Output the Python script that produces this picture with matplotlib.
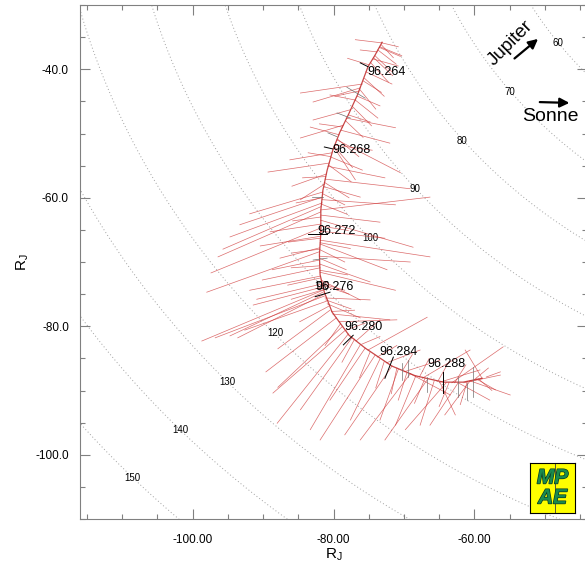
import matplotlib
matplotlib.use("Agg")
import matplotlib.pyplot as plt
import matplotlib.patheffects as pe
from matplotlib.ticker import MultipleLocator, FormatStrFormatter
import numpy as np

plt.rcParams["font.family"] = ["Liberation Sans", "DejaVu Sans"]

# spacecraft track (R_J)
traj_x = [-73.1, -74.1, -75.1, -76.6, -77.9, -79.1, -80.1, -80.9, -81.5, -81.8, -81.8,
          -82.0, -81.9, -81.3, -80.2, -77.8, -75.5, -71.7, -68.4, -64.4, -61.6, -58.9]
traj_y = [-35.8, -37.8, -39.6, -44.0, -47.1, -49.8, -52.6, -55.7, -58.8, -61.9, -65.5,
          -68.9, -72.0, -74.7, -77.8, -81.4, -83.4, -86.2, -87.7, -88.7, -88.7, -88.1]

# field vectors, start and end point (R_J)
vec_x0 = [-73.1, -73.1, -73.2, -73.4, -73.7, -73.8, -74.1, -74.4, -74.7, -75.4,
          -75.6, -75.9, -76.2, -76.4, -76.6, -76.9, -77.6, -77.9, -78.2, -78.6,
          -78.9, -79.2, -79.5, -79.8, -79.9, -80.2, -80.3, -80.6, -80.8, -81.0,
          -81.2, -81.3, -81.3, -81.5, -81.6, -81.6, -81.6, -81.8, -81.8, -81.8,
          -81.8, -81.8, -81.8, -81.8, -81.8, -81.9, -81.9, -81.9, -82.0, -82.0,
          -82.0, -82.0, -82.0, -81.9, -81.9, -81.9, -81.8, -81.6, -81.6, -81.5,
          -81.5, -81.3, -81.3, -81.2, -81.0, -80.9, -80.5, -80.1, -79.6, -79.2,
          -78.8, -78.4, -77.9, -77.4, -76.8, -76.2, -75.5, -75.1, -74.1, -73.4,
          -72.5, -71.7, -70.8, -70.0, -69.1, -68.3, -67.4, -66.6, -65.7, -64.9,
          -64.0, -63.2, -62.3, -61.5, -60.6, -59.7, -58.9, -58.3, -60.6, -62.3,
          -64.9, -69.1, -81.5, -81.9, -81.6]
vec_y0 = [-35.9, -35.9, -36.2, -36.5, -37.0, -37.3, -37.9, -38.4, -39.0, -40.4,
          -41.4, -42.3, -42.9, -43.4, -44.2, -44.8, -46.3, -47.1, -47.6, -48.7,
          -49.5, -50.2, -51.0, -51.8, -52.2, -53.0, -53.7, -54.6, -55.1, -56.3,
          -57.1, -57.9, -58.3, -59.1, -59.9, -60.3, -60.8, -61.4, -61.9, -62.2,
          -62.7, -63.5, -64.1, -64.7, -65.2, -66.0, -66.6, -67.2, -67.8, -68.4,
          -69.1, -69.7, -70.3, -70.9, -71.6, -72.2, -72.8, -73.4, -73.9, -74.4,
          -74.7, -75.0, -75.3, -75.6, -76.1, -76.5, -77.5, -78.1, -78.7, -79.3,
          -80.1, -80.7, -81.2, -81.8, -82.3, -82.9, -83.4, -83.7, -84.5, -85.1,
          -85.7, -86.2, -86.7, -87.1, -87.4, -87.7, -88.1, -88.2, -88.5, -88.7,
          -88.8, -88.8, -88.8, -88.8, -88.5, -88.2, -88.1, -87.9, -88.5, -88.8,
          -88.7, -87.4, -59.4, -68.1, -73.4]
vec_x1 = [-76.9, -70.8, -71.5, -70.3, -71.1, -76.2, -71.7, -70.8, -72.2, -71.7,
          -72.8, -84.7, -82.9, -79.8, -73.4, -73.7, -82.9, -74.8, -71.2, -84.7,
          -72.0, -83.3, -70.5, -74.5, -76.9, -86.2, -75.9, -89.3, -72.7, -85.9,
          -69.1, -84.7, -76.2, -91.9, -93.3, -71.2, -94.7, -95.7, -66.3, -96.4,
          -73.4, -68.7, -89.0, -97.4, -72.7, -90.4, -66.3, -72.4, -87.6, -98.0,
          -69.1, -88.7, -74.8, -90.1, -71.2, -91.9, -76.2, -90.9, -91.4, -98.7,
          -94.7, -93.6, -96.8, -74.8, -92.6, -76.2, -87.9, -72.0, -89.6, -71.0,
          -87.9, -88.6, -88.0, -84.7, -73.4, -83.3, -80.5, -66.7, -81.9, -77.6,
          -67.7, -78.4, -73.4, -64.9, -76.2, -71.2, -60.6, -72.7, -67.7, -59.2,
          -69.8, -55.9, -66.3, -56.3, -64.2, -57.0, -61.3, -56.3, -54.9, -57.8,
          -62.7, -63.4, -78.4, -78.4, -78.4]
vec_y1 = [-35.4, -36.5, -38.2, -37.9, -39.2, -37.0, -40.4, -39.5, -42.0, -42.3,
          -44.2, -43.7, -45.1, -44.2, -45.7, -47.6, -47.9, -48.2, -49.1, -50.7,
          -51.5, -49.0, -56.1, -52.6, -57.2, -54.1, -55.7, -56.0, -56.9, -58.2,
          -58.6, -60.3, -59.9, -62.5, -64.2, -61.1, -66.1, -68.0, -59.9, -69.2,
          -63.8, -67.7, -65.3, -71.7, -66.3, -67.5, -69.2, -71.2, -69.4, -74.7,
          -70.0, -71.2, -73.1, -72.8, -74.4, -74.4, -75.9, -75.8, -76.7, -82.3,
          -81.5, -81.8, -81.8, -75.9, -80.6, -78.7, -83.5, -79.0, -87.1, -79.0,
          -89.5, -90.4, -95.1, -93.0, -79.0, -96.1, -91.5, -78.6, -97.7, -94.6,
          -83.7, -96.9, -94.6, -85.3, -97.7, -95.4, -83.7, -97.7, -95.4, -86.8,
          -96.1, -83.2, -95.4, -87.6, -93.8, -89.9, -83.7, -87.1, -90.7, -91.5,
          -93.8, -90.7, -61.1, -70.0, -74.4]

# short vectors close to the track
short_x0 = [-73.5, -74.3, -75.0, -75.8, -76.3, -76.9, -77.3, -78.3, -78.7, -79.4,
            -79.9, -80.4, -80.7, -81.1, -81.3, -81.6, -81.7, -81.8, -81.8, -81.9,
            -81.9, -82.0, -82.0, -82.0, -81.9, -81.9, -81.6, -81.4, -81.1, -80.7,
            -80.3, -79.0, -78.2, -77.0, -76.0, -74.8, -73.8, -72.8, -71.0, -70.2,
            -69.6, -67.8, -67.0, -65.2, -63.6, -62.8, -61.0, -60.0, -59.4]
short_y0 = [-36.6, -38.2, -39.3, -41.8, -43.1, -44.8, -45.8, -48.0, -49.0, -50.9,
            -52.0, -53.6, -54.9, -56.7, -57.6, -60.0, -61.0, -63.0, -64.4, -66.3,
            -67.0, -68.0, -69.4, -70.6, -71.3, -72.5, -73.6, -74.3, -75.9, -76.9,
            -77.7, -79.6, -80.6, -82.0, -82.8, -84.0, -84.8, -85.5, -86.5, -86.9,
            -87.3, -87.9, -88.1, -88.6, -88.8, -88.8, -88.6, -88.3, -88.2]
short_x1 = [-70.5, -71.6, -78.0, -73.2, -74.0, -80.5, -74.6, -75.8, -82.0, -76.4,
            -77.3, -83.6, -77.5, -84.4, -77.8, -85.3, -78.0, -85.8, -77.9, -86.4,
            -77.6, -85.9, -78.2, -86.0, -78.0, -86.5, -77.8, -86.0, -77.5, -84.8,
            -77.0, -81.2, -75.5, -78.8, -73.4, -76.3, -71.0, -74.0, -71.8, -68.8,
            -70.8, -66.4, -68.5, -63.6, -65.0, -61.2, -62.0, -58.0, -57.5]
short_y1 = [-38.0, -41.0, -38.3, -43.6, -46.2, -44.0, -48.8, -50.6, -48.5, -53.6,
            -55.3, -53.0, -57.5, -56.9, -60.0, -60.8, -62.6, -63.6, -65.1, -66.9,
            -67.9, -68.6, -71.2, -70.9, -72.0, -73.6, -75.0, -75.8, -77.3, -79.3,
            -77.5, -83.0, -79.5, -85.6, -81.6, -88.0, -83.0, -89.6, -90.5, -84.4,
            -91.5, -85.0, -92.0, -85.5, -92.5, -86.0, -92.2, -86.5, -90.0]

# sparser vectors drawn in grey
gray_x0 = [-75.5, -77.6, -79.5, -81.5, -80.9, -70.3, -69.4, -66.7, -62.3, -61.0, -60.2]
gray_y0 = [-44.5, -47.6, -50.5, -59.9, -69.4, -85.7, -85.3, -87.9, -87.9, -88.8, -86.3]
gray_x1 = [-78.1, -79.5, -80.8, -83.0, -82.9, -70.3, -69.4, -66.7, -62.3, -61.0, -60.2]
gray_y1 = [-42.8, -46.8, -49.9, -59.9, -69.7, -88.4, -87.9, -90.2, -91.0, -91.5, -91.0]

# vectors at the time marks (black)
mark_x0 = [-75.1, -80.1, -80.9, -80.5, -77.2, -71.5, -64.4]
mark_y0 = [-39.6, -52.4, -65.6, -74.7, -81.4, -84.8, -87.1]
mark_x1 = [-76.2, -81.3, -83.6, -82.6, -78.6, -72.7, -64.4]
mark_y1 = [-39.0, -52.1, -65.6, -75.4, -82.9, -88.1, -90.4]

times = ["96.264", "96.268", "96.272", "96.276", "96.280", "96.284", "96.288"]
time_lx = [-75.2, -80.2, -82.3, -82.6, -78.4, -73.5, -66.6]
time_ly = [-40.4, -52.6, -65.2, -73.9, -80.1, -84.0, -85.9]

# distance circles around Jupiter
radii = [60, 70, 80, 90, 100, 110, 120, 130, 140, 150, 160]
label_r = [60, 70, 80, 90, 100, 110, 120, 130, 140, 150]
label_x = [-48.1, -54.9, -61.7, -68.4, -74.8, -81.6, -88.3, -95.0, -101.8, -108.5]
label_y = [-35.9, -43.5, -51.2, -58.6, -66.3, -73.7, -81.05, -88.7, -96.1, -103.6]

fig = plt.figure(figsize=(5.85, 5.68), dpi=100)
ax = fig.add_axes([80 / 585, 49 / 568, 507 / 585, 514 / 568])

th = np.linspace(np.pi, 1.5 * np.pi, 400)
for r in radii:
    ax.plot(r * np.cos(th), r * np.sin(th), color="#a0a0a0", lw=0.7,
            ls=(0, (1, 2.5)), zorder=1)
for r, lx, ly in zip(label_r, label_x, label_y):
    ax.text(lx, ly, str(r), fontsize=7, ha="center", va="center", zorder=2)

# red field vectors
for x0, y0, x1, y1 in zip(vec_x0, vec_y0, vec_x1, vec_y1):
    ax.plot([x0, x1], [y0, y1], color="#d03a3a", lw=0.5, alpha=0.75, zorder=3)
for x0, y0, x1, y1 in zip(short_x0, short_y0, short_x1, short_y1):
    ax.plot([x0, x1], [y0, y1], color="#d03a3a", lw=0.5, alpha=0.75, zorder=3)
ax.plot(traj_x, traj_y, color="#c02828", lw=0.9, alpha=0.85, zorder=3)

for x0, y0, x1, y1 in zip(gray_x0, gray_y0, gray_x1, gray_y1):
    ax.plot([x0, x1], [y0, y1], color="#707070", lw=0.5, zorder=4)
for x0, y0, x1, y1 in zip(mark_x0, mark_y0, mark_x1, mark_y1):
    ax.plot([x0, x1], [y0, y1], color="black", lw=0.7, zorder=4)

for t, lx, ly in zip(times, time_lx, time_ly):
    ax.text(lx, ly, t, fontsize=9, ha="left", va="center", zorder=5)

# direction arrows
ax.annotate("", xy=(-50.65, -35.0), xytext=(-54.6, -38.6),
            arrowprops=dict(arrowstyle="-|>", color="black", lw=1.6, mutation_scale=14))
ax.text(-54.9, -36.0, "Jupiter", fontsize=13.5, rotation=45, ha="center", va="center")
ax.annotate("", xy=(-46.1, -45.25), xytext=(-51.1, -45.1),
            arrowprops=dict(arrowstyle="-|>", color="black", lw=1.6, mutation_scale=14))
ax.text(-49.2, -47.4, "Sonne", fontsize=14, ha="center", va="center")

ax.set_xlim(-116, -44)
ax.set_ylim(-110, -30)
ax.set_xticks([-100, -80, -60])
ax.set_yticks([-100, -80, -60, -40])
ax.xaxis.set_minor_locator(MultipleLocator(5))
ax.yaxis.set_minor_locator(MultipleLocator(5))
ax.xaxis.set_major_formatter(FormatStrFormatter("%.2f"))
ax.yaxis.set_major_formatter(FormatStrFormatter("%.1f"))
ax.tick_params(which="both", direction="in", top=True, right=True, color="#808080",
               labelsize=8.5)
ax.tick_params(which="major", length=7, width=0.8)
ax.tick_params(which="minor", length=3.6, width=0.8)
ax.tick_params(axis="x", pad=11)
ax.tick_params(axis="y", pad=8)
for s in ax.spines.values():
    s.set_color("#808080")
    s.set_linewidth(0.8)
ax.set_xlabel(r"R$_\mathregular{J}$", fontsize=11, labelpad=0)
ax.set_ylabel(r"R$_\mathregular{J}$", fontsize=11, labelpad=3)

# logo
lax = fig.add_axes([530 / 585, 55 / 568, 45 / 585, 50 / 568])
lax.set_facecolor("#ffff00")
lax.set_xticks([])
lax.set_yticks([])
for s in lax.spines.values():
    s.set_color("black")
    s.set_linewidth(0.8)
lax.axvline(0.556, color="#404040", lw=0.6)
for txt, yy in [("MP", 0.7), ("AE", 0.3)]:
    lax.text(0.5, yy, txt, fontsize=15, fontweight="bold", style="italic", color="#1a8a4e",
             ha="center", va="center", transform=lax.transAxes,
             path_effects=[pe.withStroke(linewidth=1.0, foreground="#0a3a20")])

fig.savefig("out.png", dpi=100)
